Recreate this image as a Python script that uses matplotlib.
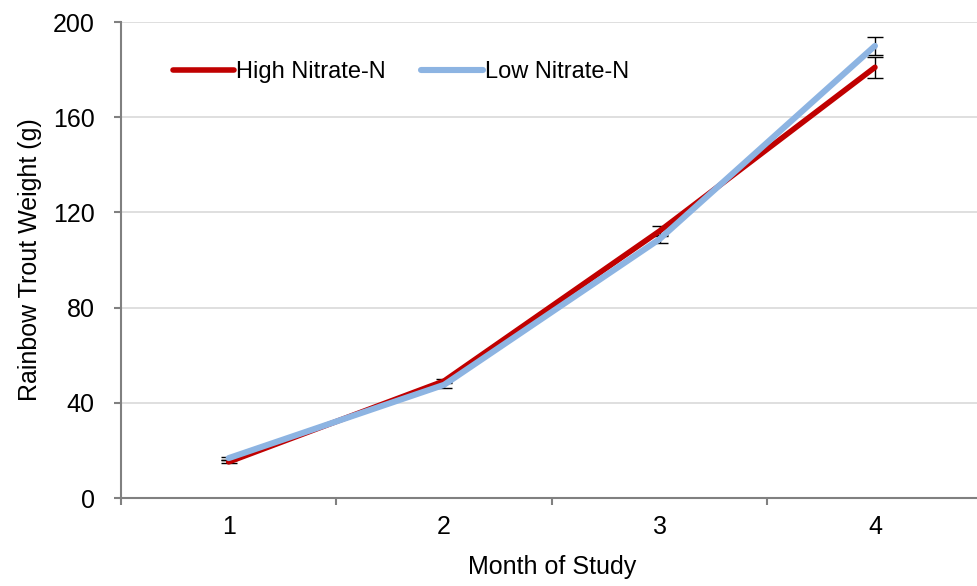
import numpy as np
import matplotlib.pyplot as plt

plt.rcParams['font.family'] = ['Liberation Sans', 'DejaVu Sans']

# Datos
meses = [1, 2, 3, 4]
high_nitrate = [15.2, 49.2, 112.2, 181.0]
high_err = [0.6, 1.0, 2.0, 4.5]
low_nitrate = [16.8, 47.6, 108.8, 190.0]
low_err = [0.6, 1.3, 1.6, 3.8]

fig = plt.figure(figsize=(9.77, 5.86), dpi=100)
ax = fig.add_axes([0.1238, 0.150, 0.882, 0.8123])

# Barras de error (debajo de las lineas)
ax.errorbar(meses, high_nitrate, yerr=high_err, fmt='none', ecolor='black',
            elinewidth=1, capsize=6, capthick=1, zorder=2)
ax.errorbar(meses, low_nitrate, yerr=low_err, fmt='none', ecolor='black',
            elinewidth=1, capsize=6, capthick=1, zorder=2)

ax.plot(meses, high_nitrate, color='#c00000', lw=4.0, label='High Nitrate-N',
        solid_capstyle='round', zorder=3)
ax.plot(meses, low_nitrate, color='#8db4e2', lw=4.4, label='Low Nitrate-N',
        solid_capstyle='round', zorder=4)

ax.set_xlim(0.5, 4.5)
ax.set_ylim(0, 200)
ax.set_yticks(np.arange(0, 201, 40))
ax.set_xticks(meses)
ax.set_xticks([0.5, 1.5, 2.5, 3.5, 4.5], minor=True)
ax.tick_params(axis='x', which='major', length=0, labelsize=18, pad=12)
ax.tick_params(axis='x', which='minor', length=5, width=1.5, color='#808080', direction='out')
ax.tick_params(axis='y', length=5, width=1.5, color='#808080', labelsize=18, pad=14)

ax.grid(axis='y', color='#d9d9d9', lw=1.2)
ax.set_axisbelow(True)
for s in ['top', 'right']:
    ax.spines[s].set_visible(False)
for s in ['left', 'bottom']:
    ax.spines[s].set_color('#808080')
    ax.spines[s].set_linewidth(1.5)

ax.set_xlabel('Month of Study', fontsize=18, labelpad=12)
ax.set_ylabel('Rainbow Trout Weight (g)', fontsize=18, labelpad=8)

ax.legend(loc='center left', bbox_to_anchor=(0.060, 0.895), ncol=2, frameon=False,
          fontsize=17, handlelength=2.6, handletextpad=0.1, columnspacing=1.5,
          borderpad=0, borderaxespad=0)

fig.savefig('out.png', dpi=100)
